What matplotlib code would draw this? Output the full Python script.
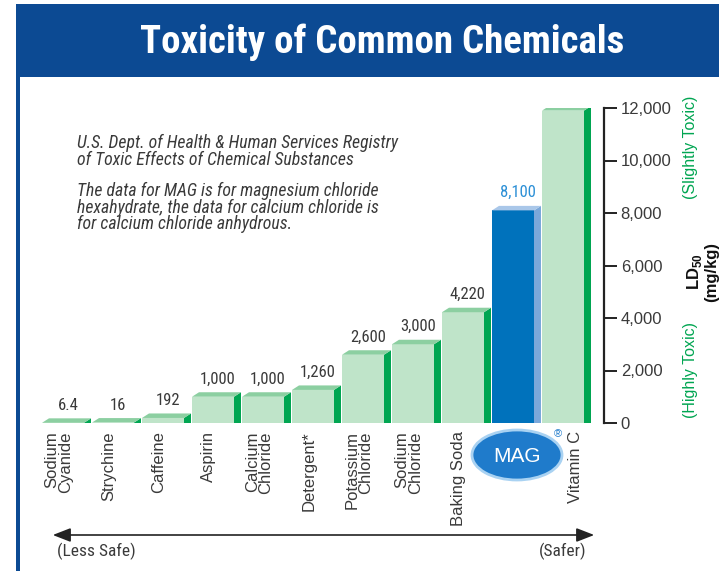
import matplotlib.pyplot as plt
from matplotlib import font_manager
from matplotlib.patches import Polygon, Rectangle, Ellipse, FancyArrowPatch

# data
chemicals = ["Sodium\nCyanide", "Strychine", "Caffeine", "Aspirin", "Calcium\nChloride",
             "Detergent*", "Potassium\nChloride", "Sodium\nChloride", "Baking Soda",
             "MAG", "Vitamin C"]
ld50 = [6.4, 16, 192, 1000, 1000, 1260, 2600, 3000, 4220, 8100, 11900]
value_labels = ["6.4", "16", "192", "1,000", "1,000", "1,260", "2,600", "3,000",
                "4,220", "8,100", "11,900"]
y_ticks = [0, 2000, 4000, 6000, 8000, 10000, 12000]

W, H = 719, 571
plt.rcParams['font.family'] = ["Liberation Sans", "DejaVu Sans"]

# pick a narrow face if one is installed, else fall back to a smaller regular one
installed = {f.name for f in font_manager.fontManager.ttflist}
narrow = next((n for n in ["Roboto Condensed", "Liberation Sans Narrow", "Open Sans Condensed"]
               if n in installed), None)
if narrow:
    NARROW, title_size, note_size, val_size = [narrow, "DejaVu Sans"], 28, 12.8, 12
else:
    NARROW, title_size, note_size, val_size = ["Liberation Sans", "DejaVu Sans"], 24, 11, 11

TEXT = "#3a3a3a"
GREEN_FRONT, GREEN_TOP, GREEN_SIDE = "#bfe4c9", "#8ccfa1", "#00a551"
BLUE_FRONT, BLUE_TOP, BLUE_SIDE = "#0072bc", "#a9c7e9", "#7ba8da"
HEADER = "#0c4a93"


def fx(px):
    return px / W


def fy(py):
    return 1 - py / H


fig = plt.figure(figsize=(W / 100, H / 100), dpi=100)

# header band + left border
fig.add_artist(Rectangle((fx(16), fy(77)), fx(719) - fx(16), fy(4) - fy(77),
                         transform=fig.transFigure, color=HEADER, lw=0))
fig.add_artist(Rectangle((fx(16), 0), fx(4), fy(77),
                         transform=fig.transFigure, color=HEADER, lw=0))
fig.text(fx(382), fy(42), "Toxicity of Common Chemicals", color="white",
         fontsize=title_size, weight="bold", family=NARROW, ha="center", va="center")

# notes
fig.text(fx(77), fy(134), "U.S. Dept. of Health & Human Services Registry\n"
         "of Toxic Effects of Chemical Substances", family=NARROW, style="italic",
         fontsize=note_size, color=TEXT, va="top", linespacing=0.9)
fig.text(fx(77), fy(182), "The data for MAG is for magnesium chloride\n"
         "hexahydrate, the data for calcium chloride is\n"
         "for calcium chloride anhydrous.", family=NARROW, style="italic",
         fontsize=note_size, color=TEXT, va="top", linespacing=0.9)

# chart axes
ax = fig.add_axes([fx(30), fy(423), fx(604) - fx(30), fy(108) - fy(423)])
ax.set_xlim(-0.24, 11.24)
ax.set_ylim(0, 12000)

front_w, side_w = 0.84, 0.14
depth = 4.5 * 12000 / 315  # top face height in data units

for i, (name, v, lab) in enumerate(zip(chemicals, ld50, value_labels)):
    mag = name == "MAG"
    front, top, side = (BLUE_FRONT, BLUE_TOP, BLUE_SIDE) if mag else (GREEN_FRONT, GREEN_TOP, GREEN_SIDE)
    ax.bar(i, v, width=front_w, align="edge", color=front, lw=0)
    ax.add_patch(Polygon([(i + front_w, 0), (i + front_w + side_w, 0),
                          (i + front_w + side_w, v + depth), (i + front_w, v)],
                         color=side, lw=0))
    ax.add_patch(Polygon([(i, v), (i + front_w, v), (i + front_w + side_w, v + depth),
                          (i + side_w, v + depth)], color=top, lw=0))
    ax.annotate(lab, (i + (front_w + side_w) / 2, v + depth), xytext=(1, 4),
                textcoords="offset points", ha="center", va="bottom", fontsize=val_size,
                family=NARROW, color="#2b8fd6" if mag else TEXT)
    if mag:
        continue
    dx = 9 if name == "Vitamin C" else -3
    ax.annotate(name, (i + front_w / 2, 0), xytext=(dx, -6), textcoords="offset points",
                rotation=90, ha="center", va="top", multialignment="right",
                fontsize=12, color=TEXT, linespacing=0.85, annotation_clip=False)

for s in ["left", "top", "bottom"]:
    ax.spines[s].set_visible(False)
ax.spines["right"].set_linewidth(1.6)
ax.spines["right"].set_color("#222222")
ax.yaxis.tick_right()
ax.set_xticks([])
ax.set_yticks(y_ticks)
ax.set_yticklabels([f"{t:,}" for t in y_ticks])
ax.tick_params(axis="y", length=9, width=1.4, color="#222222", labelsize=12,
               labelcolor=TEXT, pad=3)
ax.patch.set_alpha(0)

# right side annotations
fig.text(fx(691), fy(147), "(Slightly Toxic)", rotation=90, color="#00a551",
         fontsize=11.5, ha="center", va="center")
fig.text(fx(691), fy(370), "(Highly Toxic)", rotation=90, color="#00a551",
         fontsize=11.5, ha="center", va="center")
fig.text(fx(702), fy(272), "LD$_{\\mathregular{50}}$\n(mg/kg)", rotation=90,
         color="#111111", fontsize=12, weight="bold", ha="center", va="center",
         multialignment="center", linespacing=0.95)

# MAG logo under the MAG bar
fig.add_artist(Ellipse((fx(517), fy(455)), fx(90), fy(0) - fy(50),
                       transform=fig.transFigure, facecolor="#1f7bcb",
                       edgecolor="#a9d2f2", lw=2))
fig.text(fx(517), fy(456), chemicals[9], color="white", fontsize=15, ha="center",
         va="center")
fig.text(fx(558), fy(434), "®", color="#1f7bcb", fontsize=8, ha="center",
         va="center")

# safety arrow
fig.add_artist(FancyArrowPatch((fx(50), fy(535)), (fx(597), fy(535)),
                               transform=fig.transFigure,
                               arrowstyle="<|-|>,head_length=0.9,head_width=0.35",
                               mutation_scale=12, color="#222222", lw=1.2))
fig.text(fx(57), fy(551), "(Less Safe)", family=NARROW, fontsize=12.5, color=TEXT,
         ha="left", va="center")
fig.text(fx(586), fy(551), "(Safer)", family=NARROW, fontsize=12.5, color=TEXT,
         ha="right", va="center")

fig.savefig("out.png", dpi=100)
